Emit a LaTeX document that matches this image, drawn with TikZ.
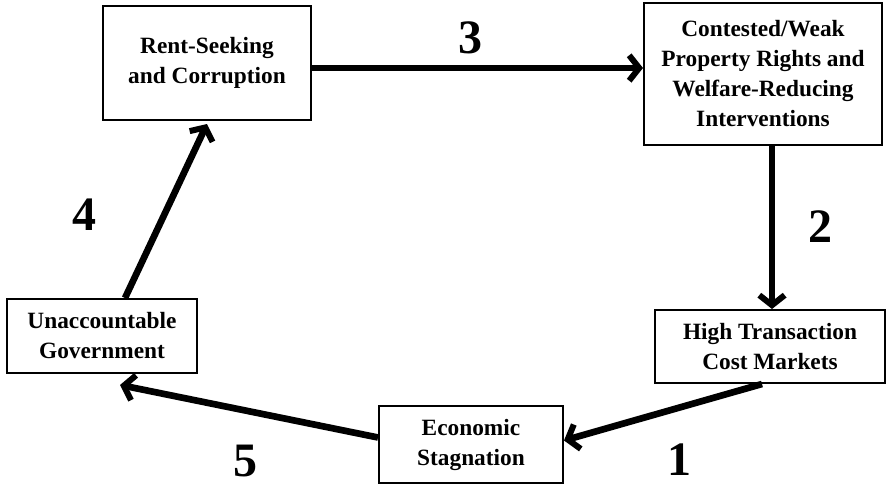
\documentclass[tikz,border=0pt]{standalone}
\usepackage{fontspec}
\setmainfont{Liberation Serif}
\usetikzlibrary{arrows.meta,calc}

\tikzset{every picture/.style={line width=0.75pt}}
\tikzset{
  box/.style={draw, line width=1.5pt, align=center, inner sep=0pt,
    font=\fontsize{17.5}{22.5}\selectfont\bfseries},
  flow/.style={line width=5pt, -{Straight Barb[length=7.5pt,width=19pt,line width=4.5pt]}},
  num/.style={font=\fontsize{36}{40}\selectfont\bfseries, inner sep=0pt}
}

\begin{document}
\begin{tikzpicture}[x=0.75pt,y=0.75pt,yscale=-1,xscale=1]
\useasboundingbox (0,0) rectangle (894,486);

%Shape: Rectangle
\node [box, minimum width=156pt, minimum height=85.5pt] (rent) at (207,63) {Rent-Seeking\\and Corruption};
%Shape: Rectangle
\node [box, minimum width=178.5pt, minimum height=106.5pt] (weak) at (763,74) {Contested/Weak\\Property Rights and\\Welfare-Reducing\\Interventions};
%Shape: Rectangle
\node [box, minimum width=172.5pt, minimum height=54.75pt] (high) at (770,346.5) {High Transaction\\Cost Markets};
%Shape: Rectangle
\node [box, minimum width=138pt, minimum height=57.75pt] (stag) at (471,444.5) {Economic\\Stagnation};
%Shape: Rectangle
\node [box, minimum width=142.5pt, minimum height=55.5pt] (unacc) at (102,336) {Unaccountable\\Government};

% arrow ends
\coordinate (s3) at ($(rent.east)+(0,5)$);
\coordinate (s2) at ($(weak.south)+(9,0)$);
\coordinate (s1) at ($(high.south)+(-8,0)$);
\coordinate (e1) at ($(stag.east)+(0,-4)$);
\coordinate (s5) at ($(stag.west)+(0,-7)$);
\coordinate (e5) at ($(unacc.south)+(18,11)$);
\coordinate (s4) at ($(unacc.north)+(23,0)$);
\coordinate (e4) at ($(rent.south)+(0,3)$);

%Straight Lines
\draw [flow] (s3) -- (s3 -| weak.west);
%Straight Lines
\draw [flow] (s2) -- (s2 |- high.north);
%Straight Lines
\draw [flow] (s1) -- (e1);
%Straight Lines
\draw [flow] (s5) -- (e5);
%Straight Lines
\draw [flow] (s4) -- (e4);

% Text Node
\node [num] (n3) at (470,38) {3};
% Text Node
\node [num] (n2) at (820,227) {2};
% Text Node
\node [num] (n1) at (679,460) {1};
% Text Node
\node [num] (n5) at (245,461) {5};
% Text Node
\node [num] (n4) at (84,215) {4};

\end{tikzpicture}
\end{document}
